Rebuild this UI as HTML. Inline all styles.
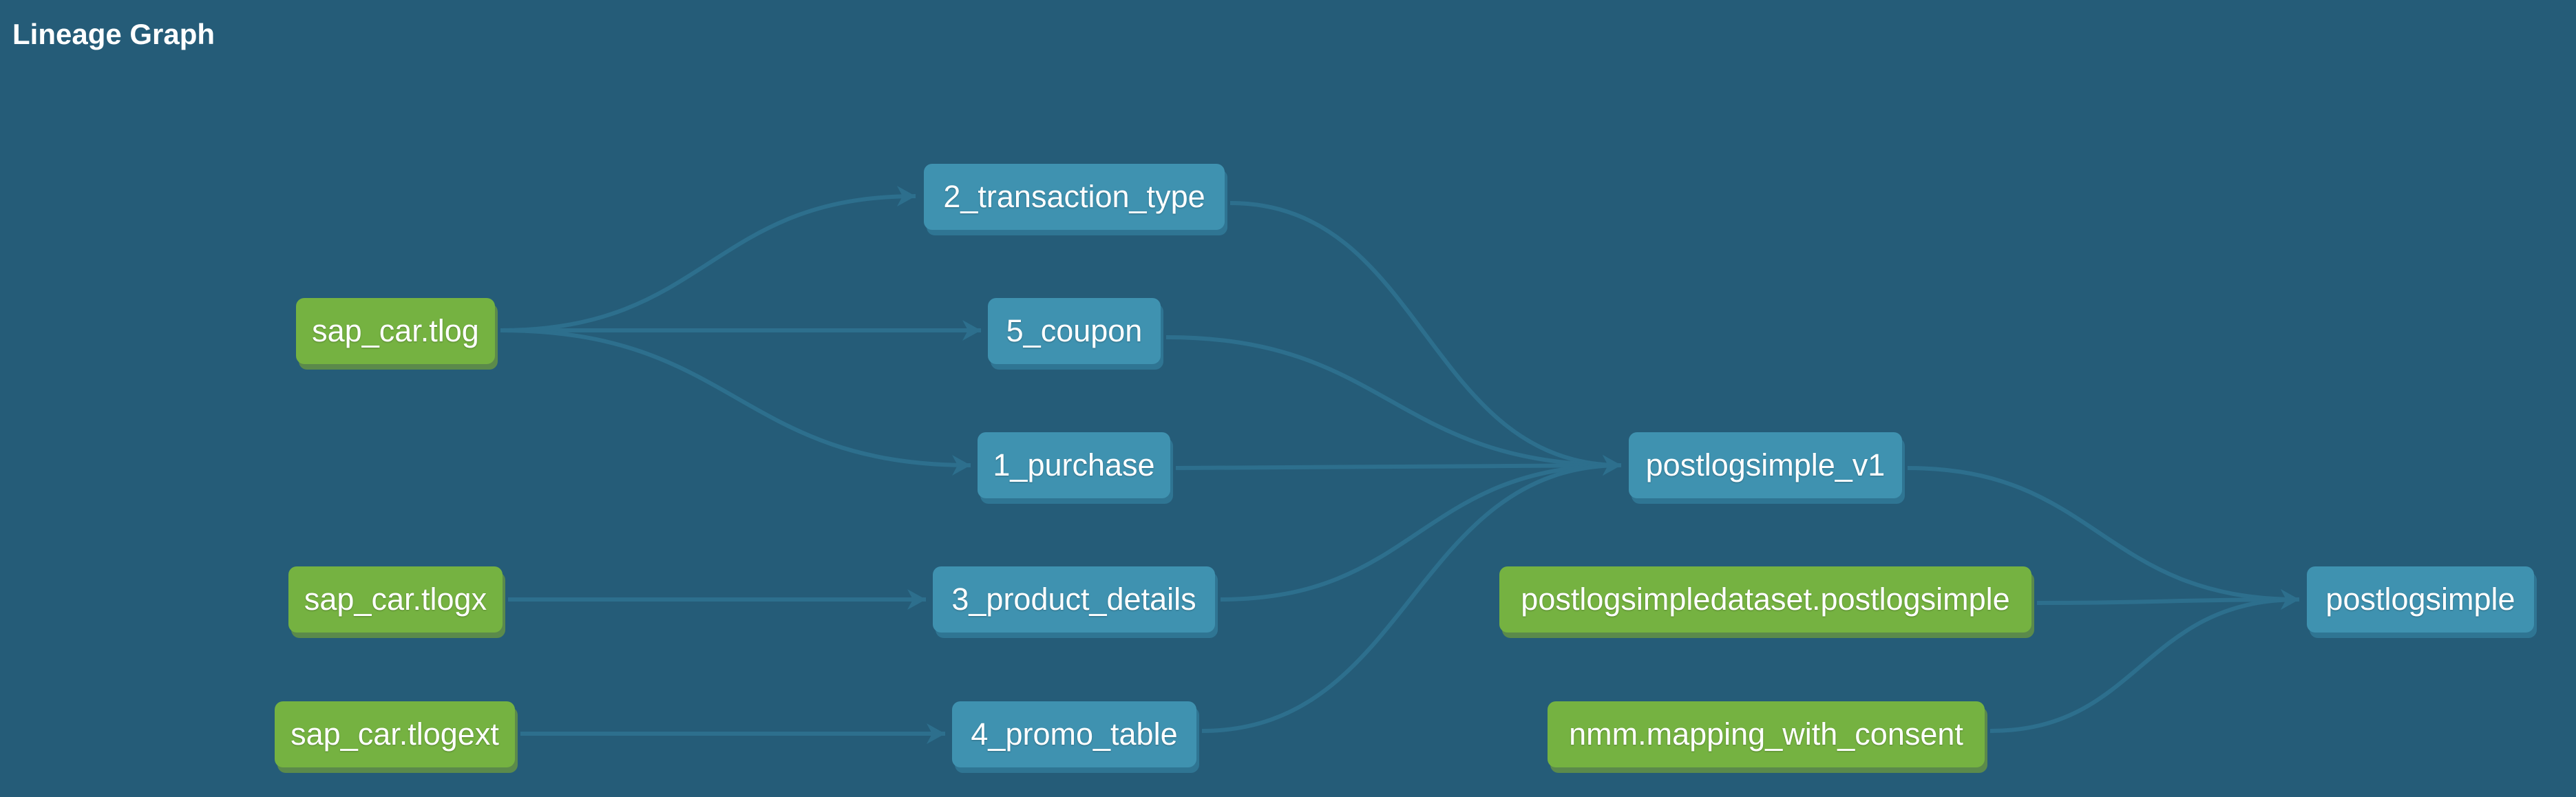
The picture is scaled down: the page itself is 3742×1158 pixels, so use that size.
<!DOCTYPE html>
<html><head><meta charset="utf-8"><style>
html,body{margin:0;padding:0;}
body{width:3742px;height:1158px;background:#255c78;overflow:hidden;position:relative;font-family:"Liberation Sans",Helvetica,Arial,sans-serif;}
.t{position:absolute;left:18px;top:26px;color:#fff;font-weight:bold;font-size:42px;}
.n{position:absolute;height:96px;border-radius:12px;color:#fff;font-size:45px;display:flex;align-items:center;justify-content:center;white-space:nowrap;text-shadow:0 1px 2px rgba(0,0,0,.25);}
.b{background:#3f92b0;box-shadow:4px 8px 0 #2f7593;}
.g{background:#75b241;box-shadow:4px 8px 0 #5b8a4b;}
svg{position:absolute;left:0;top:0;}
</style></head><body>
<div class="t">Lineage Graph</div>
<svg width="3742" height="1158">
<defs><marker id="a" markerUnits="userSpaceOnUse" markerWidth="30" markerHeight="32" refX="27" refY="15" orient="auto"><path d="M0,0 L27,15 L0,30 L8,15 Z" fill="#2d6f8d"/></marker></defs>
<g fill="none" stroke="#2d6f8d" stroke-width="6" marker-end="url(#a)">
<path d="M727,480 C1030,480 1030,285 1330,285"/>
<path d="M727,480 C1080,480 1080,480 1425,480"/>
<path d="M727,480 C1070,480 1070,676 1410,676"/>
<path d="M738,871 C1040,871 1040,871 1345,871"/>
<path d="M756,1066 C1060,1066 1060,1066 1373,1066"/>
<path d="M1787,295 C2070,295 2070,676 2355,676"/>
<path d="M1694,490 C2020,490 2020,676 2355,676"/>
<path d="M1708,680 C2030,680 2030,676 2355,676"/>
<path d="M1773,871 C2060,871 2060,676 2355,676"/>
<path d="M1746,1062 C2050,1062 2050,676 2355,676"/>
<path d="M2771,680 C3050,680 3050,871 3340,871"/>
<path d="M2959,876 C3150,876 3150,871 3340,871"/>
<path d="M2891,1062 C3110,1062 3110,871 3340,871"/>
</g></svg>
<div class="n g" style="left:430px;top:433px;width:289px;">sap_car.tlog</div>
<div class="n g" style="left:419px;top:823px;width:311px;">sap_car.tlogx</div>
<div class="n g" style="left:399px;top:1019px;width:349px;">sap_car.tlogext</div>
<div class="n b" style="left:1342px;top:238px;width:437px;">2_transaction_type</div>
<div class="n b" style="left:1435px;top:433px;width:251px;">5_coupon</div>
<div class="n b" style="left:1420px;top:628px;width:280px;">1_purchase</div>
<div class="n b" style="left:1355px;top:823px;width:410px;">3_product_details</div>
<div class="n b" style="left:1383px;top:1019px;width:355px;">4_promo_table</div>
<div class="n b" style="left:2366px;top:628px;width:397px;">postlogsimple_v1</div>
<div class="n g" style="left:2178px;top:823px;width:773px;">postlogsimpledataset.postlogsimple</div>
<div class="n g" style="left:2248px;top:1019px;width:635px;">nmm.mapping_with_consent</div>
<div class="n b" style="left:3351px;top:823px;width:330px;">postlogsimple</div>
</body></html>
